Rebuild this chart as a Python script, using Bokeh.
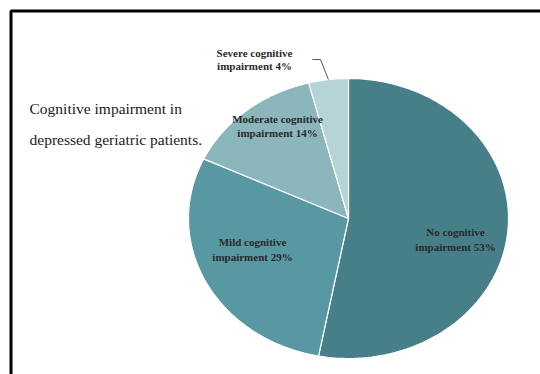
import numpy as np
from bokeh.plotting import figure
from bokeh.models import ColumnDataSource, Range1d
from bokeh.core.properties import value
from bokeh.embed import file_html
from bokeh.resources import INLINE

# ---- data ----
categories = ["No cognitive impairment", "Mild cognitive impairment",
              "Moderate cognitive impairment", "Severe cognitive impairment"]
percent = [53, 29, 14, 4]
label_line1 = ["No cognitive", "Mild cognitive", "Moderate cognitive", "Severe cognitive"]
label_line2 = ["impairment 53%", "impairment 29%", "impairment 14%", "impairment 4%"]
colors = ["#467f88", "#5898a3", "#8bb7bc", "#b6d3d5"]
title_lines = ["Cognitive impairment in", "depressed geriatric patients."]

W, H = 540, 374
p = figure(width=W, height=H, output_backend="svg", toolbar_location=None,
           x_range=Range1d(0, W), y_range=Range1d(H, 0), min_border=0)
p.axis.visible = False
p.grid.visible = False
p.outline_line_color = None
p.background_fill_color = "white"
p.border_fill_color = "white"

# frame
p.line([10.5, 10.5, W + 5], [H + 5, 10.5, 10.5], line_color="black", line_width=3)

# elliptical pie, clockwise from 12 o'clock
cx, cy, rx, ry = 348, 218, 160, 140
vals = np.array(percent, dtype=float)
frac = vals / vals.sum()
ends = np.cumsum(frac) * 2 * np.pi
starts = ends - frac * 2 * np.pi
xs, ys = [], []
for s, e in zip(starts, ends):
    t = np.linspace(s, e, 120)
    xs.append([cx] + list(cx + rx * np.sin(t)) + [cx])
    ys.append([cy] + list(cy - ry * np.cos(t)) + [cy])
src = ColumnDataSource(dict(xs=xs, ys=ys, color=colors, name=categories))
p.patches("xs", "ys", source=src, fill_color="color", line_color="white", line_width=1.2)

# labels (layout positions)
lab_x = [455, 252, 277, 254]
lab_y1 = [231, 241, 118, 52]
lab_y2 = [246, 256, 132, 65]
font = value("Liberation Serif")
p.text(x=lab_x, y=lab_y1, text=label_line1, text_font=font, text_font_size="11px",
       text_font_style="bold", text_align="center", text_baseline="middle", text_color="#2a2a2a")
p.text(x=lab_x, y=lab_y2, text=label_line2, text_font=font, text_font_size="11px",
       text_font_style="bold", text_align="center", text_baseline="middle", text_color="#2a2a2a")

# leader line to severe slice
mid = (starts[3] + ends[3]) / 2
ex, ey = cx + rx * np.sin(mid), cy - ry * np.cos(mid)
p.line([312, 320, ex], [59, 59, ey], line_color="#555555", line_width=1)

# title
p.text(x=[29, 29], y=[108, 139], text=title_lines, text_font=font, text_font_size="15.5px",
       text_align="left", text_baseline="middle", text_color="#1a1a1a")

open("out.html", "w").write(file_html(p, INLINE))
